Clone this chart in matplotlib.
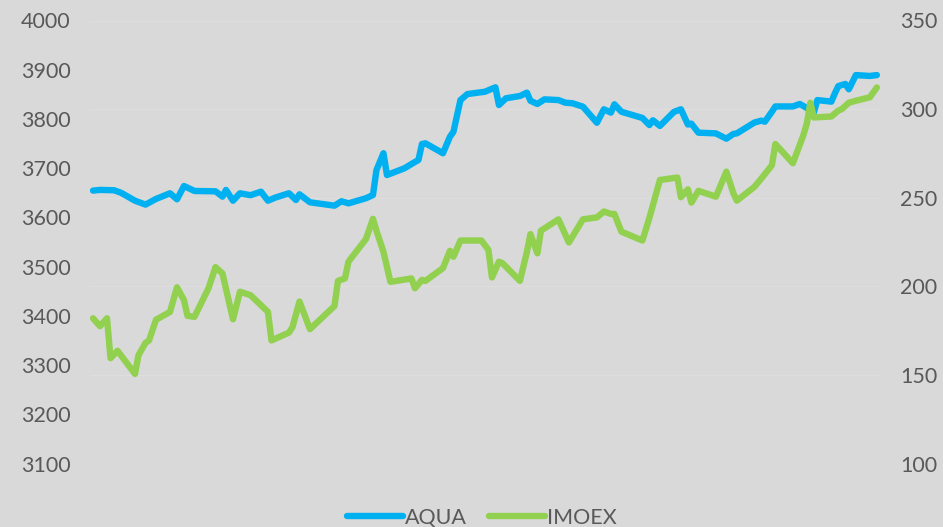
import matplotlib.pyplot as plt

# trading-day index (approx.) and values
aqua_day = [0, 2, 6, 8, 12, 15, 18, 22, 24, 26, 29, 35, 37, 38, 40, 42, 45, 48, 50, 52,
            56, 58, 59, 62, 69, 71, 73, 78, 80, 81, 83, 84, 89, 91, 93, 94, 95, 100, 102, 103,
            105, 107, 112, 115, 116, 118, 122, 124, 125, 127, 129, 133, 135, 137, 140, 144, 146, 148, 149, 151,
            157, 159, 160, 162, 166, 168, 170, 171, 173, 178, 181, 183, 184, 189, 191, 192, 194, 195, 200, 202,
            204, 206, 207, 211, 212, 213, 215, 216, 218, 222, 224]
aqua = [254.0, 254.4, 254.2, 252.8, 248.3, 246.1, 249.3, 252.5, 249.1, 256.6, 253.8, 253.6, 250.6, 254.4, 248.3, 252.5, 251.4, 253.4, 248.3, 250.0,
        252.5, 248.7, 251.9, 247.4, 245.5, 248.0, 246.8, 249.7, 251.5, 265.6, 275.1, 262.8, 266.6, 269.0, 271.3, 280.3, 280.7, 275.1, 284.4, 287.2,
        305.1, 308.5, 309.8, 312.3, 302.3, 306.1, 307.4, 309.3, 304.7, 302.9, 305.5, 305.1, 303.6, 303.3, 301.4, 292.3, 299.9, 298.0, 302.7, 298.5,
        295.0, 291.0, 293.7, 290.5, 298.4, 299.9, 291.3, 291.8, 286.7, 286.3, 283.3, 286.0, 286.3, 292.4, 293.5, 292.9, 298.5, 301.5, 301.5, 302.9,
        300.6, 298.1, 305.1, 304.2, 308.9, 313.0, 314.2, 311.2, 319.2, 318.7, 319.2]

imoex_day = [0, 2, 4, 5, 7, 12, 13, 15, 16, 18, 22, 24, 26, 27, 29, 33, 35, 37, 40, 42,
             45, 50, 51, 56, 57, 59, 62, 69, 70, 72, 73, 78, 80, 81, 83, 85, 91, 92, 94, 95,
             100, 102, 103, 105, 111, 113, 114, 116, 117, 122, 124, 125, 127, 128, 133, 136, 140, 144, 146, 148,
             149, 151, 157, 159, 162, 167, 168, 170, 171, 173, 178, 181, 183, 184, 189, 191, 194, 195, 200, 203,
             204, 205, 206, 211, 213, 214, 216, 218, 222, 224]
imoex = [3395, 3379, 3395, 3314, 3329, 3282, 3320, 3345, 3350, 3392, 3408, 3458, 3432, 3400, 3398, 3456, 3499, 3486, 3393, 3449,
         3442, 3408, 3350, 3366, 3377, 3429, 3373, 3420, 3471, 3476, 3510, 3556, 3597, 3573, 3530, 3469, 3476, 3456, 3473, 3471,
         3497, 3532, 3520, 3553, 3553, 3534, 3478, 3510, 3507, 3471, 3530, 3566, 3527, 3573, 3596, 3549, 3596, 3600, 3612, 3607,
         3607, 3571, 3553, 3599, 3676, 3681, 3641, 3657, 3630, 3654, 3642, 3693, 3649, 3634, 3662, 3679, 3706, 3749, 3710, 3767,
         3791, 3833, 3803, 3805, 3817, 3820, 3833, 3837, 3844, 3864]

left_ticks = list(range(3100, 4001, 100))
right_ticks = list(range(100, 351, 50))

bg = '#d9d9d9'
txt = '#595959'
blue = '#00b0f0'
green = '#92d050'

plt.rcParams['font.family'] = ['Lato', 'DejaVu Sans']

fig = plt.figure(figsize=(9.43, 5.27), dpi=100, facecolor=bg)
ax = fig.add_axes([90 / 943, 1 - 463.5 / 527, 790 / 943, 443 / 527])
ax.set_facecolor(bg)
ax2 = ax.twinx()

l2, = ax.plot(imoex_day, imoex, color=green, lw=4.6, solid_capstyle='round', solid_joinstyle='round', label='IMOEX', zorder=3)
l1, = ax2.plot(aqua_day, aqua, color=blue, lw=4.6, solid_capstyle='round', solid_joinstyle='round', label='AQUA', zorder=3)

ax.set_xlim(-0.86, 224.9)
ax.set_ylim(3100, 4000)
ax2.set_ylim(100, 350)
ax.set_yticks(left_ticks)
ax2.set_yticks(right_ticks)
ax.set_xticks([])

for a in (ax, ax2):
    for s in a.spines.values():
        s.set_visible(False)
    a.tick_params(axis='y', length=0, labelsize=15.5, labelcolor=txt)
ax.tick_params(axis='y', pad=14)
ax2.tick_params(axis='y', pad=14.5)

# faint horizontal gridlines
ax2.grid(axis='y', color='#dedede', lw=0.8, zorder=0)
ax2.set_axisbelow(True)
ax.set_zorder(ax2.get_zorder() + 1)
ax.patch.set_visible(False)
ax2.patch.set_facecolor(bg)

leg = fig.legend(handles=[l1, l2], loc='center', bbox_to_anchor=(482 / 943, 1 - 518 / 527),
                 ncol=2, frameon=False, fontsize=15.5, labelcolor=txt,
                 handlelength=2.6, handletextpad=0.1, columnspacing=1.0)

fig.savefig('out.png', dpi=100, facecolor=bg)
